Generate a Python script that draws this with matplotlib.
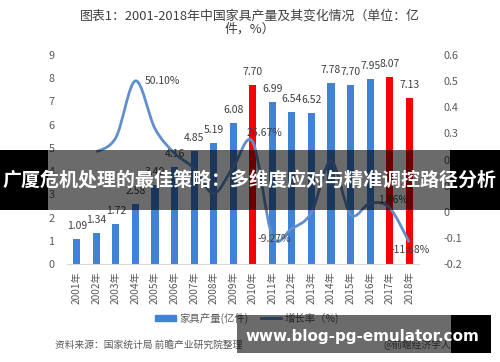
import numpy as np
import matplotlib
matplotlib.use('Agg')
import matplotlib.pyplot as plt
from matplotlib.path import Path
from matplotlib.patches import PathPatch, Rectangle, Patch
from matplotlib.lines import Line2D

plt.rcParams['font.family'] = ['Noto Sans CJK SC', 'DejaVu Sans']

# data
years = ['2001年', '2002年', '2003年', '2004年', '2005年', '2006年', '2007年', '2008年', '2009年',
         '2010年', '2011年', '2012年', '2013年', '2014年', '2015年', '2016年', '2017年', '2018年']
output = [1.09, 1.34, 1.72, 2.58, 3.40, 4.16, 4.85, 5.19, 6.08,
          7.70, 6.99, 6.54, 6.52, 7.78, 7.70, 7.95, 8.07, 7.13]
# growth rate, 2002-2018
growth = [0.229, 0.284, 0.501, 0.318, 0.224, 0.166, 0.070, 0.171,
          0.2667, -0.0927, -0.064, -0.003, 0.193, -0.010, 0.033, 0.0146, -0.1168]
red_years = ['2010年', '2017年', '2018年']
growth_labels = {'2004年': '50.10%', '2010年': '26.67%', '2011年': '-9.27%',
                 '2017年': '1.46%', '2018年': '-11.68%'}

blue = '#3f82d8'
red = '#fa0000'
line_c = '#6090cc'
txt = '#404040'
tick_c = '#595959'

W, H = 500, 362
fig = plt.figure(figsize=(5, 3.62), dpi=100)
ax = fig.add_axes([67/W, 1 - 264/H, 352/W, 209/H])

x = np.arange(len(years))
colors = [red if y in red_years else blue for y in years]
ax.bar(x, output, width=0.36, color=colors, zorder=2)
for xi, v in zip(x, output):
    ax.annotate('%.2f' % v, (xi, v), xytext=(0, 13), textcoords='offset pixels',
                ha='center', va='center', fontsize=7.5, color=txt)

ax.set_xlim(-0.5, 17.5)
ax.set_ylim(0, 9)
ax.set_yticks(range(0, 10))
ax.set_xticks(x)
ax.set_xticklabels(years, rotation=90, fontsize=7.3, color=tick_c)
ax.tick_params(axis='y', length=0, pad=9, labelsize=7.8, labelcolor=tick_c)
ax.tick_params(axis='x', length=0, pad=5)
for s in ['top', 'right', 'left']:
    ax.spines[s].set_visible(False)
ax.spines['bottom'].set_color('#d9d9d9')

# growth line on second axis, smoothed like Excel
ax2 = ax.twinx()
ax2.set_ylim(-0.2, 0.6)
ax2.set_yticks([-0.2, -0.1, 0, 0.1, 0.2, 0.3, 0.4, 0.5, 0.6])
ax2.set_yticklabels(['-0.2', '-0.1', '0', '0.1', '0.2', '0.3', '0.4', '0.5', '0.6'])
ax2.tick_params(axis='y', length=0, pad=18, labelsize=7.8, labelcolor=tick_c)
for s in ax2.spines.values():
    s.set_visible(False)

gx = x[1:].astype(float)
gy = np.array(growth)
pts = np.column_stack([gx, gy])
verts = [pts[0]]
codes = [Path.MOVETO]
n = len(pts)
for i in range(n - 1):
    p0 = pts[max(i - 1, 0)]
    p1 = pts[i]
    p2 = pts[i + 1]
    p3 = pts[min(i + 2, n - 1)]
    c1 = p1 + (p2 - p0) / 6.0
    c2 = p2 - (p3 - p1) / 6.0
    verts += [c1, c2, p2]
    codes += [Path.CURVE4] * 3
ax2.add_patch(PathPatch(Path(verts, codes), fill=False, edgecolor=line_c, lw=2.0, zorder=3))

lab_off = {'2004年': (9, 0, 'left'), '2010年': (12, 9, 'center'), '2011年': (2, -3, 'center'),
           '2017年': (3, 8, 'center'), '2018年': (1, -8, 'center')}
for yr, lab in growth_labels.items():
    i = years.index(yr)
    dx, dy, ha = lab_off[yr]
    ax2.annotate(lab, (i, growth[i - 1]), xytext=(dx, dy), textcoords='offset pixels',
                 ha=ha, va='center', fontsize=7.5, color=txt)

fig.text(0.5, 1 - 23/H, '图表1：2001-2018年中国家具产量及其变化情况（单位：亿\n件，%）',
         ha='center', va='center', fontsize=9.3, color=txt, linespacing=1.0)

handles = [Patch(color=blue), Line2D([], [], color=line_c, lw=2)]
fig.legend(handles, ['家具产量(亿件)', '增长率（%)'], loc='center', bbox_to_anchor=(247/W, 1 - 318/H),
           ncol=2, frameon=False, fontsize=7.5, handlelength=2.0, handleheight=0.6,
           columnspacing=1.2, handletextpad=0.3, labelcolor=tick_c)

fig.text(55/W, 1 - 345/H, '资料来源：国家统计局 前瞻产业研究院整理', ha='left', va='center',
         fontsize=7, color=tick_c, style='italic')
fig.text(383/W, 1 - 345/H, '@前瞻经济学人APP', ha='left', va='center', fontsize=7, color=tick_c)

# overlay banners
ov = fig.add_axes([0, 0, 1, 1], zorder=10)
ov.set_xlim(0, W)
ov.set_ylim(H, 0)
ov.axis('off')
ov.patch.set_alpha(0)
ov.add_patch(Rectangle((48, 150), 402, 60, color='black', alpha=0.58, lw=0))
ov.add_patch(Rectangle((0, 150), 48, 60, color='black', lw=0))
ov.add_patch(Rectangle((450, 150), 50, 60, color='black', lw=0))
ov.text(250, 181, '广厦危机处理的最佳策略：多维度应对与精准调控路径分析', ha='center', va='center',
        fontsize=13.7, fontweight='bold', color='white')
ov.add_patch(Rectangle((237, 315), 214, 38, color='black', alpha=0.58, lw=0))
ov.add_patch(Rectangle((451, 315), 40, 38, color='black', lw=0))
ov.text(362, 336, 'www.blog-pg-emulator.com', ha='center', va='center',
        fontsize=10.9, fontweight='bold', color='white', family='DejaVu Sans')

fig.savefig('out.png', dpi=100)
